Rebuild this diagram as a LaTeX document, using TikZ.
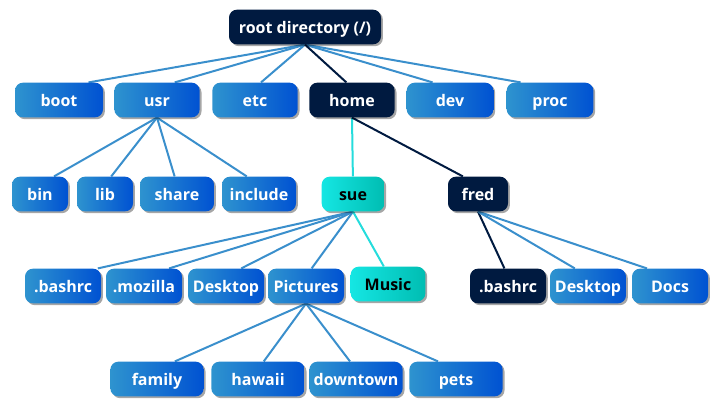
\documentclass[tikz,border=0pt]{standalone}
\usepackage{fontspec}
\setsansfont{Open Sans}
\usetikzlibrary{shadows,backgrounds,calc}
\definecolor{azulclaro}{HTML}{2E93CF}
\definecolor{azulescuro}{HTML}{0052D2}
\definecolor{marinho}{HTML}{001A40}
\definecolor{cianoclaro}{HTML}{15E6E3}
\definecolor{cianoescuro}{HTML}{00BDB2}
\definecolor{linhaazul}{HTML}{3A8FCC}
\definecolor{linhaciano}{HTML}{25DCDC}
\tikzset{
  caixa/.style={rounded corners=6pt, minimum height=26pt, inner sep=0pt,
    text height=10.5pt, text depth=1.5pt,
    font=\sffamily\bfseries\fontsize{12}{14}\selectfont,
    drop shadow={shadow xshift=1.4pt, shadow yshift=-1.4pt, opacity=0.35, fill=black}},
  azul/.style={caixa, text=white, left color=azulclaro, right color=azulescuro},
  escuro/.style={caixa, text=white, fill=marinho},
  ciano/.style={caixa, text=black, left color=cianoclaro, right color=cianoescuro},
  ramo/.style={linhaazul, line width=1.5pt},
  ramoescuro/.style={marinho, line width=1.5pt},
  ramociano/.style={linhaciano, line width=1.5pt},
}
% ligacao do pai (base) ao filho (topo, um pouco puxado para o pai)
\newcommand{\liga}[3][ramo]{%
  \draw[#1] (#2.south) -- ($(#3.north)!0.12!(#2.south |- #3.north)$);
}
\begin{document}
\begin{tikzpicture}[x=0.75pt, y=-0.75pt]
  \useasboundingbox (0,0) rectangle (720,405);

  % ---------------- raiz e primeiro nivel ----------------
  \node[escuro, minimum width=114pt] (root) at (305,27) {root directory (/)};
  \node[azul, minimum width=66pt] (boot) at (59,100) {boot};
  \node[azul, minimum width=64pt] (usr) at (157,100) {usr};
  \node[azul, minimum width=64pt] (etc) at (255,100) {etc};
  \node[escuro, minimum width=64pt] (home) at (352,100) {home};
  \node[azul, minimum width=65pt] (dev) at (450,100) {dev};
  \node[azul, minimum width=65pt] (proc) at (550,100) {proc};

  % ---------------- segundo nivel ----------------
  \node[azul, minimum width=42pt] (bin) at (40,194) {bin};
  \node[azul, minimum width=42pt] (lib) at (105,194) {lib};
  \node[azul, minimum width=55.5pt] (share) at (177,194) {share};
  \node[azul, minimum width=55.5pt] (include) at (259,194) {include};
  \node[ciano, minimum width=47pt] (sue) at (353,194) {sue};
  \node[escuro, minimum width=45pt] (fred) at (478,194) {fred};

  % ---------------- terceiro nivel ----------------
  \node[azul, minimum width=57pt] (suebashrc) at (63,286) {.bashrc};
  \node[azul, minimum width=57pt] (mozilla) at (144,286) {.mozilla};
  \node[azul, minimum width=57pt] (suedesktop) at (226,286) {Desktop};
  \node[azul, minimum width=57pt] (pictures) at (306,286) {Pictures};
  \node[ciano, minimum width=56pt] (music) at (388,284) {Music};
  \node[escuro, minimum width=57pt] (fredbashrc) at (508,286) {.bashrc};
  \node[azul, minimum width=57pt] (freddesktop) at (588,286) {Desktop};
  \node[azul, minimum width=57pt] (docs) at (670,286) {Docs};

  % ---------------- quarto nivel ----------------
  \node[azul, minimum width=70pt] (family) at (157,379) {family};
  \node[azul, minimum width=70pt] (hawaii) at (258,379) {hawaii};
  \node[azul, minimum width=70pt] (downtown) at (356,379) {downtown};
  \node[azul, minimum width=70pt] (pets) at (456,379) {pets};

  % ---------------- ligacoes ----------------
  \begin{pgfonlayer}{background}
    \foreach \f in {boot,usr,etc,dev,proc} { \liga{root}{\f} }
    \liga[ramoescuro]{root}{home}
    \liga[ramociano]{home}{sue}
    \liga[ramoescuro]{home}{fred}
    \foreach \f in {bin,lib,share,include} { \liga{usr}{\f} }
    \foreach \f in {suebashrc,mozilla,suedesktop,pictures} { \liga{sue}{\f} }
    \liga[ramociano]{sue}{music}
    \liga[ramoescuro]{fred}{fredbashrc}
    \foreach \f in {freddesktop,docs} { \liga{fred}{\f} }
    \foreach \f in {family,hawaii,downtown,pets} { \liga{pictures}{\f} }
  \end{pgfonlayer}
\end{tikzpicture}
\end{document}
